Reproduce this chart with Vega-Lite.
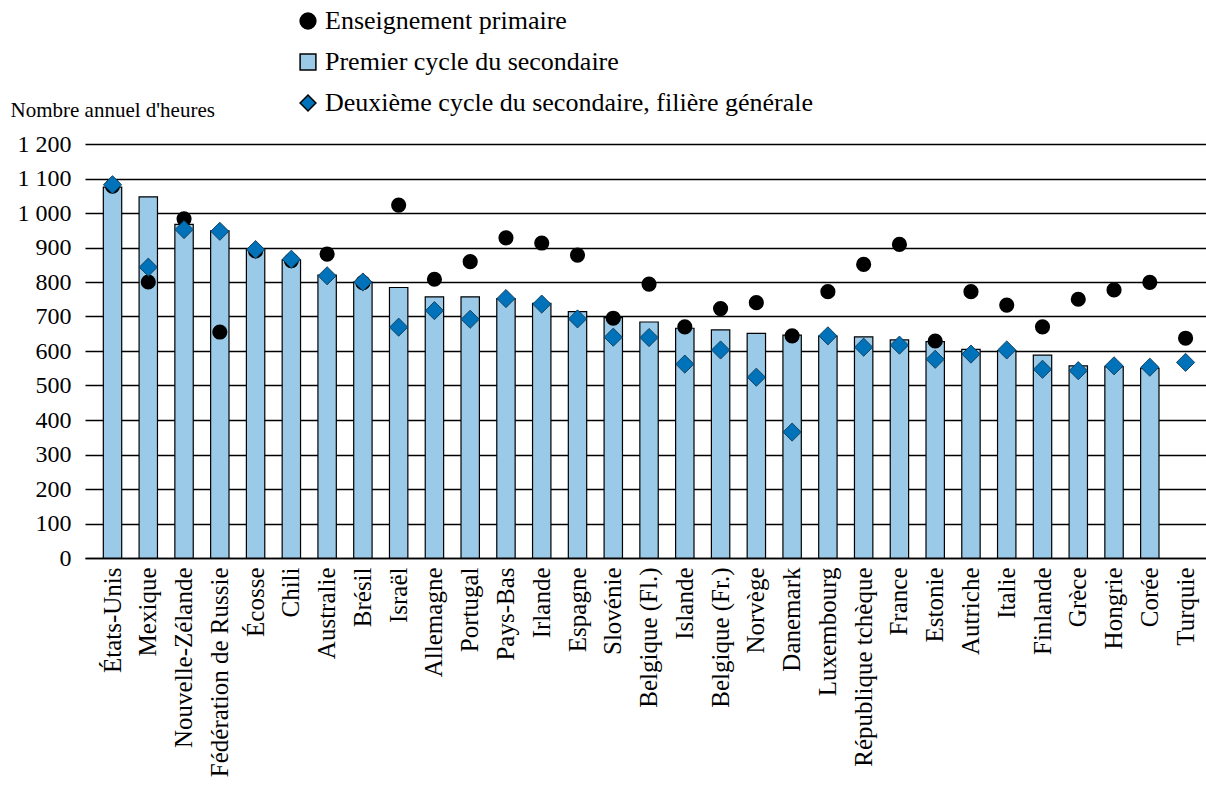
{
  "$schema": "https://vega.github.io/schema/vega-lite/v6.json",
  "width": 1121,
  "height": 414,
  "autosize": {"type": "none"},
  "padding": {"left": 85, "top": 144, "right": 0, "bottom": 231},
  "background": "white",
  "config": {
    "view": {"stroke": null},
    "font": "Liberation Serif",
    "legend": {
      "orient": "none",
      "legendX": 210,
      "legendY": -136,
      "direction": "vertical",
      "labelFont": "Liberation Serif",
      "labelFontSize": 26,
      "labelColor": "#000",
      "labelLimit": 0,
      "rowPadding": 15,
      "symbolSize": 250,
      "labelOffset": 4,
      "padding": 0
    }
  },
  "data": {
    "values": [
      {"pays": "États-Unis", "niveau": "Enseignement primaire", "heures": 1078},
      {"pays": "États-Unis", "niveau": "Premier cycle du secondaire", "heures": 1075},
      {"pays": "États-Unis", "niveau": "Deuxième cycle du secondaire, filière générale", "heures": 1082},
      {"pays": "Mexique", "niveau": "Enseignement primaire", "heures": 800},
      {"pays": "Mexique", "niveau": "Premier cycle du secondaire", "heures": 1047},
      {"pays": "Mexique", "niveau": "Deuxième cycle du secondaire, filière générale", "heures": 843},
      {"pays": "Nouvelle-Zélande", "niveau": "Enseignement primaire", "heures": 983},
      {"pays": "Nouvelle-Zélande", "niveau": "Premier cycle du secondaire", "heures": 967},
      {"pays": "Nouvelle-Zélande", "niveau": "Deuxième cycle du secondaire, filière générale", "heures": 952},
      {"pays": "Fédération de Russie", "niveau": "Enseignement primaire", "heures": 655},
      {"pays": "Fédération de Russie", "niveau": "Premier cycle du secondaire", "heures": 948},
      {"pays": "Fédération de Russie", "niveau": "Deuxième cycle du secondaire, filière générale", "heures": 947},
      {"pays": "Écosse", "niveau": "Enseignement primaire", "heures": 890},
      {"pays": "Écosse", "niveau": "Premier cycle du secondaire", "heures": 897},
      {"pays": "Écosse", "niveau": "Deuxième cycle du secondaire, filière générale", "heures": 894},
      {"pays": "Chili", "niveau": "Enseignement primaire", "heures": 862},
      {"pays": "Chili", "niveau": "Premier cycle du secondaire", "heures": 864},
      {"pays": "Chili", "niveau": "Deuxième cycle du secondaire, filière générale", "heures": 866},
      {"pays": "Australie", "niveau": "Enseignement primaire", "heures": 881},
      {"pays": "Australie", "niveau": "Premier cycle du secondaire", "heures": 820},
      {"pays": "Australie", "niveau": "Deuxième cycle du secondaire, filière générale", "heures": 818},
      {"pays": "Brésil", "niveau": "Enseignement primaire", "heures": 798},
      {"pays": "Brésil", "niveau": "Premier cycle du secondaire", "heures": 800},
      {"pays": "Brésil", "niveau": "Deuxième cycle du secondaire, filière générale", "heures": 800},
      {"pays": "Israël", "niveau": "Enseignement primaire", "heures": 1023},
      {"pays": "Israël", "niveau": "Premier cycle du secondaire", "heures": 784},
      {"pays": "Israël", "niveau": "Deuxième cycle du secondaire, filière générale", "heures": 669},
      {"pays": "Allemagne", "niveau": "Enseignement primaire", "heures": 808},
      {"pays": "Allemagne", "niveau": "Premier cycle du secondaire", "heures": 757},
      {"pays": "Allemagne", "niveau": "Deuxième cycle du secondaire, filière générale", "heures": 717},
      {"pays": "Portugal", "niveau": "Enseignement primaire", "heures": 859},
      {"pays": "Portugal", "niveau": "Premier cycle du secondaire", "heures": 757},
      {"pays": "Portugal", "niveau": "Deuxième cycle du secondaire, filière générale", "heures": 692},
      {"pays": "Pays-Bas", "niveau": "Enseignement primaire", "heures": 928},
      {"pays": "Pays-Bas", "niveau": "Premier cycle du secondaire", "heures": 752},
      {"pays": "Pays-Bas", "niveau": "Deuxième cycle du secondaire, filière générale", "heures": 752},
      {"pays": "Irlande", "niveau": "Enseignement primaire", "heures": 913},
      {"pays": "Irlande", "niveau": "Premier cycle du secondaire", "heures": 738},
      {"pays": "Irlande", "niveau": "Deuxième cycle du secondaire, filière générale", "heures": 736},
      {"pays": "Espagne", "niveau": "Enseignement primaire", "heures": 878},
      {"pays": "Espagne", "niveau": "Premier cycle du secondaire", "heures": 714},
      {"pays": "Espagne", "niveau": "Deuxième cycle du secondaire, filière générale", "heures": 693},
      {"pays": "Slovénie", "niveau": "Enseignement primaire", "heures": 695},
      {"pays": "Slovénie", "niveau": "Premier cycle du secondaire", "heures": 697},
      {"pays": "Slovénie", "niveau": "Deuxième cycle du secondaire, filière générale", "heures": 640},
      {"pays": "Belgique (Fl.)", "niveau": "Enseignement primaire", "heures": 794},
      {"pays": "Belgique (Fl.)", "niveau": "Premier cycle du secondaire", "heures": 684},
      {"pays": "Belgique (Fl.)", "niveau": "Deuxième cycle du secondaire, filière générale", "heures": 639},
      {"pays": "Islande", "niveau": "Enseignement primaire", "heures": 670},
      {"pays": "Islande", "niveau": "Premier cycle du secondaire", "heures": 666},
      {"pays": "Islande", "niveau": "Deuxième cycle du secondaire, filière générale", "heures": 562},
      {"pays": "Belgique (Fr.)", "niveau": "Enseignement primaire", "heures": 723},
      {"pays": "Belgique (Fr.)", "niveau": "Premier cycle du secondaire", "heures": 661},
      {"pays": "Belgique (Fr.)", "niveau": "Deuxième cycle du secondaire, filière générale", "heures": 603},
      {"pays": "Norvège", "niveau": "Enseignement primaire", "heures": 740},
      {"pays": "Norvège", "niveau": "Premier cycle du secondaire", "heures": 651},
      {"pays": "Norvège", "niveau": "Deuxième cycle du secondaire, filière générale", "heures": 524},
      {"pays": "Danemark", "niveau": "Enseignement primaire", "heures": 644},
      {"pays": "Danemark", "niveau": "Premier cycle du secondaire", "heures": 646},
      {"pays": "Danemark", "niveau": "Deuxième cycle du secondaire, filière générale", "heures": 365},
      {"pays": "Luxembourg", "niveau": "Enseignement primaire", "heures": 772},
      {"pays": "Luxembourg", "niveau": "Premier cycle du secondaire", "heures": 643},
      {"pays": "Luxembourg", "niveau": "Deuxième cycle du secondaire, filière générale", "heures": 644},
      {"pays": "République tchèque", "niveau": "Enseignement primaire", "heures": 851},
      {"pays": "République tchèque", "niveau": "Premier cycle du secondaire", "heures": 641},
      {"pays": "République tchèque", "niveau": "Deuxième cycle du secondaire, filière générale", "heures": 611},
      {"pays": "France", "niveau": "Enseignement primaire", "heures": 909},
      {"pays": "France", "niveau": "Premier cycle du secondaire", "heures": 632},
      {"pays": "France", "niveau": "Deuxième cycle du secondaire, filière générale", "heures": 617},
      {"pays": "Estonie", "niveau": "Enseignement primaire", "heures": 629},
      {"pays": "Estonie", "niveau": "Premier cycle du secondaire", "heures": 627},
      {"pays": "Estonie", "niveau": "Deuxième cycle du secondaire, filière générale", "heures": 576},
      {"pays": "Autriche", "niveau": "Enseignement primaire", "heures": 772},
      {"pays": "Autriche", "niveau": "Premier cycle du secondaire", "heures": 605},
      {"pays": "Autriche", "niveau": "Deuxième cycle du secondaire, filière générale", "heures": 591},
      {"pays": "Italie", "niveau": "Enseignement primaire", "heures": 733},
      {"pays": "Italie", "niveau": "Premier cycle du secondaire", "heures": 601},
      {"pays": "Italie", "niveau": "Deuxième cycle du secondaire, filière générale", "heures": 603},
      {"pays": "Finlande", "niveau": "Enseignement primaire", "heures": 670},
      {"pays": "Finlande", "niveau": "Premier cycle du secondaire", "heures": 588},
      {"pays": "Finlande", "niveau": "Deuxième cycle du secondaire, filière générale", "heures": 547},
      {"pays": "Grèce", "niveau": "Enseignement primaire", "heures": 750},
      {"pays": "Grèce", "niveau": "Premier cycle du secondaire", "heures": 557},
      {"pays": "Grèce", "niveau": "Deuxième cycle du secondaire, filière générale", "heures": 543},
      {"pays": "Hongrie", "niveau": "Enseignement primaire", "heures": 777},
      {"pays": "Hongrie", "niveau": "Premier cycle du secondaire", "heures": 555},
      {"pays": "Hongrie", "niveau": "Deuxième cycle du secondaire, filière générale", "heures": 557},
      {"pays": "Corée", "niveau": "Enseignement primaire", "heures": 799},
      {"pays": "Corée", "niveau": "Premier cycle du secondaire", "heures": 550},
      {"pays": "Corée", "niveau": "Deuxième cycle du secondaire, filière générale", "heures": 553},
      {"pays": "Turquie", "niveau": "Enseignement primaire", "heures": 637},
      {"pays": "Turquie", "niveau": "Deuxième cycle du secondaire, filière générale", "heures": 567}
    ]
  },
  "encoding": {
    "x": {
      "field": "pays",
      "type": "nominal",
      "sort": null,
      "scale": {"paddingInner": 0.486, "paddingOuter": 0.413, "align": 0.62},
      "axis": {
        "title": null,
        "ticks": false,
        "domain": true,
        "domainColor": "#000",
        "domainWidth": 1.5,
        "labelAngle": -90,
        "labelFont": "Liberation Serif",
        "labelFontSize": 25,
        "labelColor": "#000",
        "labelPadding": 9,
        "labelLimit": 0
      }
    },
    "y": {
      "field": "heures",
      "type": "quantitative",
      "scale": {"domain": [0, 1200], "nice": false},
      "axis": {
        "values": [0, 100, 200, 300, 400, 500, 600, 700, 800, 900, 1000, 1100, 1200],
        "labelExpr": "replace(format(datum.value, ','), ',', ' ')",
        "ticks": false,
        "domain": false,
        "grid": true,
        "gridColor": "#000",
        "gridWidth": 1.5,
        "gridOpacity": 1,
        "labelFont": "Liberation Serif",
        "labelFontSize": 24,
        "labelColor": "#000",
        "labelPadding": 14,
        "title": "Nombre annuel d'heures",
        "titleFont": "Liberation Serif",
        "titleFontSize": 21,
        "titleFontWeight": "normal",
        "titleColor": "#000",
        "titleAngle": 0,
        "titleAlign": "left",
        "titleBaseline": "middle",
        "titleX": -75,
        "titleY": -34
      }
    },
    "color": {
      "field": "niveau",
      "type": "nominal",
      "title": null,
      "scale": {
        "domain": ["Enseignement primaire", "Premier cycle du secondaire", "Deuxième cycle du secondaire, filière générale"],
        "range": ["#000000", "#9ACAE8", "#0072BA"]
      },
      "legend": {
        "encode": {
          "symbols": {"update": {"stroke": {"value": "#000"}, "strokeWidth": {"value": 1}}}
        }
      }
    }
  },
  "layer": [
    {
      "transform": [{"filter": "datum.niveau === 'Premier cycle du secondaire'"}],
      "mark": {"type": "bar", "stroke": "#000", "strokeWidth": 1.2}
    },
    {
      "transform": [{"filter": "datum.niveau === 'Enseignement primaire'"}],
      "mark": {"type": "point", "filled": true, "opacity": 1, "size": 230},
      "encoding": {
        "shape": {
          "field": "niveau",
          "type": "nominal",
          "title": null,
          "scale": {
            "domain": ["Enseignement primaire", "Premier cycle du secondaire", "Deuxième cycle du secondaire, filière générale"],
            "range": ["circle", "square", "diamond"]
          }
        }
      }
    },
    {
      "transform": [{"filter": "datum.niveau === 'Deuxième cycle du secondaire, filière générale'"}],
      "mark": {"type": "point", "filled": true, "opacity": 1, "size": 330, "stroke": "#123a55", "strokeWidth": 0.9},
      "encoding": {
        "shape": {
          "field": "niveau",
          "type": "nominal",
          "title": null,
          "scale": {
            "domain": ["Enseignement primaire", "Premier cycle du secondaire", "Deuxième cycle du secondaire, filière générale"],
            "range": ["circle", "square", "diamond"]
          }
        }
      }
    }
  ]
}
